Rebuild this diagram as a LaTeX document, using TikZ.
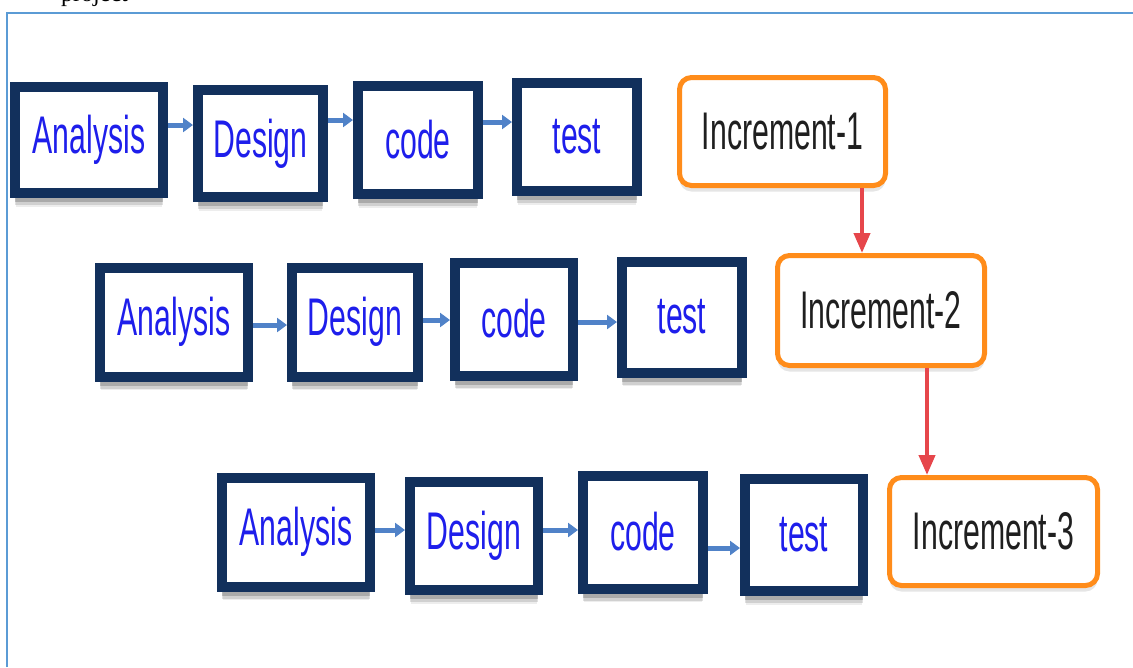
\documentclass[tikz,border=0pt]{standalone}
\usepackage{fontspec}
\setmainfont{Liberation Sans}
\newfontfamily\boxfont[FakeStretch=0.57]{Liberation Sans}
\newfontfamily\serifdoc{Liberation Serif}
\usetikzlibrary{arrows.meta,shadows}
\definecolor{navy}{RGB}{18,48,92}
\definecolor{txtblue}{RGB}{30,30,235}
\definecolor{orng}{RGB}{255,140,26}
\definecolor{redarr}{RGB}{230,70,75}
\definecolor{bluearr}{RGB}{80,130,200}
\definecolor{frameblue}{RGB}{91,155,213}
\begin{document}
\begin{tikzpicture}[x=1pt,y=-1pt,
  phase/.style={draw=navy, line width=10pt, fill=white, inner sep=0pt, text=txtblue,
    font=\boxfont\fontsize{53}{53}\selectfont,
    drop shadow={shadow xshift=0pt, shadow yshift=-15pt, shadow scale=0.98, opacity=0.07, fill=black},
    drop shadow={shadow xshift=0pt, shadow yshift=-12pt, opacity=0.12, fill=black},
    drop shadow={shadow xshift=0pt, shadow yshift=-9pt, opacity=0.18, fill=black}},
  incr/.style={draw=orng, line width=5pt, rounded corners=12pt, fill=white, inner sep=0pt,
    text=black!88, font=\boxfont\fontsize{53}{53}\selectfont,
    drop shadow={shadow xshift=0pt, shadow yshift=-6pt, opacity=0.10, fill=black}},
  barrow/.style={draw=bluearr, line width=5pt, -{Triangle[length=10pt,width=14pt]}},
  rarrow/.style={draw=redarr, line width=4pt, -{Triangle[length=20pt,width=16pt]}},
  docline/.style={draw=frameblue, line width=2pt}
]
\useasboundingbox (0,0) rectangle (1133,667);
\clip (0,0) rectangle (1133,667);

% cut-off document text and frame
\node[anchor=base west, inner sep=0pt, font=\serifdoc\fontsize{24}{24}\selectfont] (proj) at (61,1) {project};
\draw[docline] (7,667) -- (7,13) -- (1140,13);

% row 1
\node[phase, minimum width=148, minimum height=106] (a1) at (89,140) {Analysis};
\node[phase, minimum width=125, minimum height=107] (d1) at (260.5,143.5) {Design};
\node[phase, minimum width=120, minimum height=108] (c1) at (418,140) {code};
\node[phase, minimum width=120, minimum height=108] (t1) at (577,137) {test};
\node[incr, minimum width=206, minimum height=108] (i1) at (782.5,131.5) {Increment-1};

% row 2
\node[phase, minimum width=148, minimum height=109] (a2) at (174,322) {Analysis};
\node[phase, minimum width=126, minimum height=109] (d2) at (355,322) {Design};
\node[phase, minimum width=118, minimum height=113] (c2) at (514,319) {code};
\node[phase, minimum width=120, minimum height=111] (t2) at (682,317) {test};
\node[incr, minimum width=207, minimum height=110] (i2) at (881,310.5) {Increment-2};

% row 3
\node[phase, minimum width=148, minimum height=109] (a3) at (296,532) {Analysis};
\node[phase, minimum width=128, minimum height=108] (d3) at (474,536) {Design};
\node[phase, minimum width=120, minimum height=113] (c3) at (643,532) {code};
\node[phase, minimum width=118, minimum height=112] (t3) at (804,535) {test};
\node[incr, minimum width=208, minimum height=108] (i3) at (993.5,531.5) {Increment-3};

% arrow levels
\coordinate (h1a) at (0,125); \coordinate (h1b) at (0,120); \coordinate (h1c) at (0,122);
\coordinate (h2a) at (0,325); \coordinate (h2b) at (0,320); \coordinate (h2c) at (0,322);
\coordinate (h3a) at (0,530); \coordinate (h3b) at (0,530); \coordinate (h3c) at (0,548);
\coordinate (v1) at (862,0); \coordinate (v2) at (927,0);

\draw[barrow] (a1.east |- h1a) -- (d1.west |- h1a);
\draw[barrow] (d1.east |- h1b) -- (c1.west |- h1b);
\draw[barrow] (c1.east |- h1c) -- (t1.west |- h1c);
\draw[barrow] (a2.east |- h2a) -- (d2.west |- h2a);
\draw[barrow] (d2.east |- h2b) -- (c2.west |- h2b);
\draw[barrow] (c2.east |- h2c) -- (t2.west |- h2c);
\draw[barrow] (a3.east |- h3a) -- (d3.west |- h3a);
\draw[barrow] (d3.east |- h3b) -- (c3.west |- h3b);
\draw[barrow] (c3.east |- h3c) -- (t3.west |- h3c);

\draw[rarrow] (i1.south -| v1) -- (i2.north -| v1);
\draw[rarrow] (i2.south -| v2) -- (i3.north -| v2);
\end{tikzpicture}
\end{document}
